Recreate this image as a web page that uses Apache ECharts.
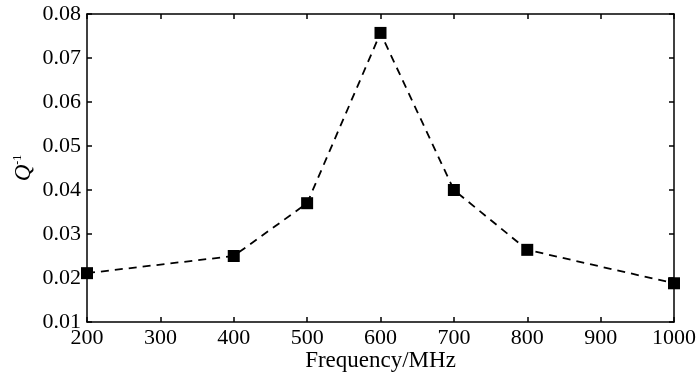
<!DOCTYPE html>
<html><head><meta charset="utf-8">
<script src="https://cdn.jsdelivr.net/npm/echarts@6/dist/echarts.min.js"></script>
<style>html,body{margin:0;padding:0;background:#fff}#c{width:700px;height:374px}</style>
</head><body><div id="c"></div>
<script>
const frequencies = [200, 400, 500, 600, 700, 800, 1000];
const qInverse = [0.0211, 0.0250, 0.0370, 0.0757, 0.0400, 0.0264, 0.0188];
const xTicks = [200, 300, 400, 500, 600, 700, 800, 900, 1000];
const yTicks = [0.01, 0.02, 0.03, 0.04, 0.05, 0.06, 0.07, 0.08];

const font = 'Liberation Serif';
const axisLine = {show: true, lineStyle: {color: '#000', width: 1.5}};
const tick = {show: true, inside: true, length: 5, lineStyle: {color: '#000', width: 1.5}};
const chart = echarts.init(document.getElementById('c'));
chart.setOption({
  animation: false,
  grid: {left: 87, right: 26, top: 14, bottom: 52, containLabel: false, outerBoundsMode: 'none'},
  xAxis: [{
    type: 'value', min: xTicks[0], max: xTicks[xTicks.length - 1], interval: 100,
    axisLine, axisTick: tick, splitLine: {show: false},
    axisLabel: {color: '#000', fontFamily: font, fontSize: 22, margin: 5,
      formatter: v => String(v)},
    name: 'Frequency/MHz', nameLocation: 'middle', nameGap: 27, nameMoveOverlap: false,
    nameTextStyle: {color: '#000', fontFamily: font, fontSize: 23}
  }, {
    type: 'value', position: 'top', min: xTicks[0], max: xTicks[xTicks.length - 1], interval: 100,
    axisLine, axisTick: tick, axisLabel: {show: false}, splitLine: {show: false}
  }],
  yAxis: [{
    type: 'value', min: yTicks[0], max: yTicks[yTicks.length - 1], interval: 0.01,
    axisLine, axisTick: tick, splitLine: {show: false},
    axisLabel: {color: '#000', fontFamily: font, fontSize: 22, margin: 6,
      formatter: v => v.toFixed(2)},
    name: '{q|Q}{s|-1}', nameLocation: 'middle', nameGap: 52, nameRotate: 90, nameMoveOverlap: false,
    nameTextStyle: {color: '#000', fontFamily: font, fontSize: 22,
      rich: {q: {fontFamily: font, fontSize: 23, fontStyle: 'italic', color: '#000'},
             s: {fontFamily: font, fontSize: 12, color: '#000', verticalAlign: 'top', padding: [0,0,9,0]}}}
  }, {
    type: 'value', position: 'right', min: yTicks[0], max: yTicks[yTicks.length - 1], interval: 0.01,
    axisLine, axisTick: tick, axisLabel: {show: false}, splitLine: {show: false}
  }],
  series: [{
    type: 'line',
    data: frequencies.map((f, i) => [f, qInverse[i]]),
    symbol: 'rect', symbolSize: 12,
    itemStyle: {color: '#000'},
    lineStyle: {color: '#000', width: 1.8, type: [8, 6]},
    clip: false
  }]
});
</script></body></html>
